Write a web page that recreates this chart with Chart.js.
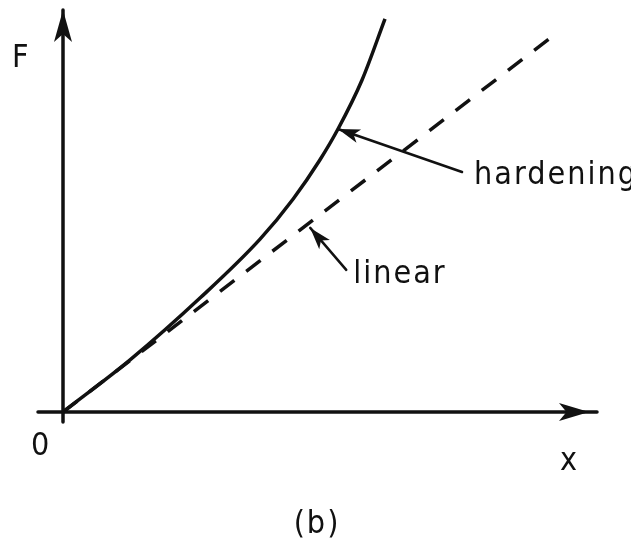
<!DOCTYPE html>
<html>
<head>
<meta charset="utf-8">
<script src="https://cdn.jsdelivr.net/npm/chart.js@4.4.0/dist/chart.umd.min.js"></script>
<style>
  html, body { margin: 0; padding: 0; background: #fff; }
  canvas { display: block; }
</style>
</head>
<body>
<canvas id="forceChart" width="631" height="542"></canvas>
<script>
// ===== DATA (displacement x vs force F, arbitrary units) =====
const curveX     = [0, 1.25, 2.57, 3.69, 4.31, 4.81, 5.15, 5.60, 6.03];
const hardeningF = [0, 1.29, 2.84, 4.30, 5.30, 6.27, 7.04, 8.26, 9.78];
const linearX    = [0, 9.12];
const linearF    = [0, 9.30];

// where the two callouts point to (data units)
const hardeningTip = { x: 5.15, y: 7.04 };
const linearTip    = { x: 4.63, y: 4.58 };

const INK = "#111";
const FONT = '32px "DejaVu Sans Condensed", "DejaVu Sans", sans-serif';

function toPoints(xs, ys) {
    return xs.map((x, i) => ({ x: x, y: ys[i] }));
}

// filled arrow head with a small notch at the back
function arrowHead(ctx, tx, ty, angle, len, halfW) {
    const c = Math.cos(angle), s = Math.sin(angle);
    const bx = tx - c * len, by = ty - s * len;
    const nx = tx - c * len * 0.75, ny = ty - s * len * 0.75;
    ctx.beginPath();
    ctx.moveTo(tx, ty);
    ctx.lineTo(bx - s * halfW, by + c * halfW);
    ctx.lineTo(nx, ny);
    ctx.lineTo(bx + s * halfW, by - c * halfW);
    ctx.closePath();
    ctx.fill();
}

function callout(ctx, tail, tip, text, textX, textY) {
    ctx.lineWidth = 2.5;
    ctx.beginPath();
    ctx.moveTo(tail.x, tail.y);
    ctx.lineTo(tip.x, tip.y);
    ctx.stroke();
    const ang = Math.atan2(tip.y - tail.y, tip.x - tail.x);
    arrowHead(ctx, tip.x, tip.y, ang, 22, 7);
    ctx.fillText(text, textX, textY);
}

// axes, arrows and labels drawn straight onto the canvas
const sketchAxes = {
    id: "sketchAxes",
    afterDraw(chart) {
        const ctx = chart.ctx;
        const xs = chart.scales.x, ys = chart.scales.y;
        const ox = xs.getPixelForValue(0), oy = ys.getPixelForValue(0);
        ctx.save();
        ctx.strokeStyle = INK;
        ctx.fillStyle = INK;
        ctx.lineCap = "round";

        // x axis
        ctx.lineWidth = 3.5;
        ctx.beginPath();
        ctx.moveTo(ox - 25, oy);
        ctx.lineTo(chart.chartArea.right, oy);
        ctx.stroke();
        arrowHead(ctx, chart.chartArea.right - 8, oy, 0, 30, 9);

        // F axis
        ctx.beginPath();
        ctx.moveTo(ox, oy + 10);
        ctx.lineTo(ox, chart.chartArea.top);
        ctx.stroke();
        arrowHead(ctx, ox, chart.chartArea.top, -Math.PI / 2, 32, 9);

        ctx.font = FONT;
        ctx.textBaseline = "alphabetic";
        ctx.textAlign = "left";
        ctx.letterSpacing = "2px";

        ctx.fillText("F", 12, 67);
        ctx.fillText("0", 31, 455);
        ctx.fillText("x", 560, 470);
        ctx.textAlign = "center";
        ctx.fillText("(b)", 317, 533);
        ctx.textAlign = "left";

        // callouts
        const hTip = { x: xs.getPixelForValue(hardeningTip.x), y: ys.getPixelForValue(hardeningTip.y) };
        const lTip = { x: xs.getPixelForValue(linearTip.x), y: ys.getPixelForValue(linearTip.y) };
        callout(ctx, { x: hTip.x + 124, y: hTip.y + 43 }, hTip, "hardening", hTip.x + 136, hTip.y + 55);
        callout(ctx, { x: lTip.x + 36, y: lTip.y + 42 }, lTip, "linear", lTip.x + 43, lTip.y + 55);

        ctx.restore();
    }
};

const ctx = document.getElementById("forceChart").getContext("2d");
const forceChart = new Chart(ctx, {
    type: "line",
    data: {
        datasets: [{
            label: "hardening",
            data: toPoints(curveX, hardeningF),
            borderColor: INK,
            borderWidth: 3.5,
            pointRadius: 0,
            cubicInterpolationMode: "monotone",
            clip: false
        }, {
            label: "linear",
            data: toPoints(linearX, linearF),
            borderColor: INK,
            borderWidth: 3.5,
            borderDash: [18, 15],
            pointRadius: 0,
            clip: false
        }]
    },
    options: {
        responsive: false,
        animation: false,
        layout: { padding: { left: 63, top: 10, right: 34, bottom: 130 } },
        scales: {
            x: { type: "linear", min: 0, max: 10, display: false },
            y: { type: "linear", min: 0, max: 10, display: false }
        },
        plugins: {
            legend: { display: false },
            tooltip: { enabled: false }
        }
    },
    plugins: [sketchAxes]
});
</script>
</body>
</html>
